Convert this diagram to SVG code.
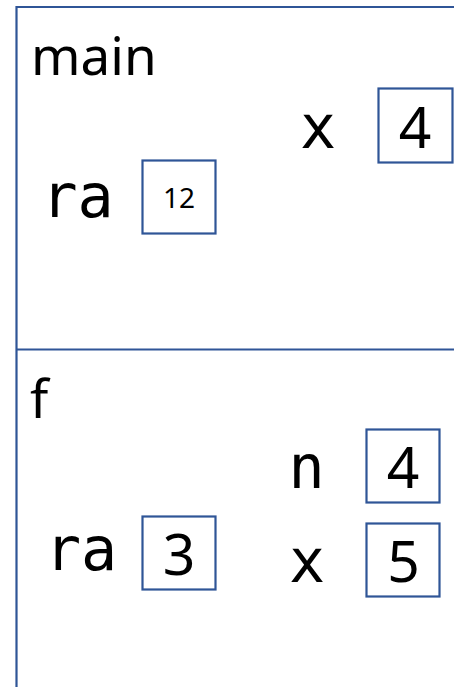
<svg xmlns="http://www.w3.org/2000/svg" width="454" height="687" viewBox="0 0 454 687">
<style>
.ln{stroke:#2F5597;stroke-width:2.2;fill:none}
.box{stroke:#2F5597;stroke-width:2.2;fill:#fff}
.lbl{font-family:"Noto Sans","Open Sans",sans-serif;font-size:53px;fill:#000}
.mono{font-family:"DejaVu Sans Mono","Liberation Mono",monospace;font-size:60px;fill:#000;text-anchor:middle}
.val{font-family:"Noto Sans","Open Sans",sans-serif;font-size:57px;fill:#000;text-anchor:middle}
.small{font-size:28px}
</style>
<rect width="454" height="687" fill="#fff"/>
<g id="frames">
<path class="ln" d="M16.5,687 V7 H454"/>
<path class="ln" d="M16.5,349.5 H454"/>
</g>
<g id="main">
<text class="lbl" x="31" y="75">main</text>
<g id="main-x">
<text class="mono" x="318" y="148">x</text>
<rect class="box" x="378.5" y="88.5" width="74" height="74"/>
<text class="val" x="415" y="148">4</text>
</g>
<g id="main-ra">
<text class="mono" x="77.5" y="217">ra</text>
<rect class="box" x="142.5" y="160.5" width="73" height="73"/>
<text class="val small" x="179" y="208">12</text>
</g>
</g>
<g id="f">
<text class="lbl" x="30" y="418">f</text>
<g id="f-n">
<text class="mono" x="306.5" y="488">n</text>
<rect class="box" x="366.5" y="429.5" width="73" height="73"/>
<text class="val" x="403" y="488">4</text>
</g>
<g id="f-x">
<text class="mono" x="307" y="582">x</text>
<rect class="box" x="366.5" y="523.5" width="73" height="73"/>
<text class="val" x="403.5" y="582">5</text>
</g>
<g id="f-ra">
<text class="mono" x="81" y="570">ra</text>
<rect class="box" x="142.5" y="516.5" width="73" height="73"/>
<text class="val" x="179" y="575">3</text>
</g>
</g>
<g id="connectors"/>
</svg>
